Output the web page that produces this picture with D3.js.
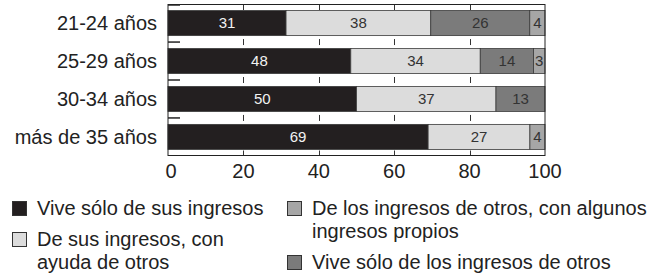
<!DOCTYPE html>
<html>
<head>
<meta charset="utf-8">
<script src="https://cdn.jsdelivr.net/npm/d3@7"></script>
<style>
  body { margin: 0; background: #fff; }
  svg { font-family: "Liberation Sans", Arial, sans-serif; }
</style>
</head>
<body>
<div id="chart"></div>
<script>
// categories (rows) and series values
var categories = ["21-24 años", "25-29 años", "30-34 años", "más de 35 años"];
var seriesKeys = ["propios", "ayuda", "otros", "algunos"];
var propios = [31, 48, 50, 69];   // Vive sólo de sus ingresos
var ayuda = [38, 34, 37, 27];     // De sus ingresos, con ayuda de otros
var otros = [26, 14, 13, 0];      // Vive sólo de los ingresos de otros
var algunos = [4, 3, 0, 4];       // De los ingresos de otros, con algunos ingresos propios
var xTicks = [0, 20, 40, 60, 80, 100];

var seriesColor = { propios: "#231f20", ayuda: "#dcdcdc", otros: "#7b7b7b", algunos: "#a6a6a6" };
var labelColor = { propios: "#f2f2f2", ayuda: "#333333", otros: "#333333", algunos: "#333333" };

// legend, in two columns, as in the picture
var legendItems = [
  { key: "propios", lines: ["Vive sólo de sus ingresos"], col: 0, row: 0 },
  { key: "ayuda", lines: ["De sus ingresos, con", "ayuda de otros"], col: 0, row: 1 },
  { key: "algunos", lines: ["De los ingresos de otros, con algunos", "ingresos propios"], col: 1, row: 0 },
  { key: "otros", lines: ["Vive sólo de los ingresos de otros"], col: 1, row: 1 }
];

var width = 666, height = 280;
var plotLeft = 168, plotRight = 545, plotTop = 4.5, plotBottom = 155.5;
var bigFont = 20, barFont = 15;

var svg = d3.select("#chart").append("svg")
  .attr("width", width)
  .attr("height", height);

var rows = categories.map(function (c, i) {
  return { cat: c, propios: propios[i], ayuda: ayuda[i], otros: otros[i], algunos: algunos[i] };
});

var x = d3.scaleLinear().domain([0, 100]).range([plotLeft, plotRight]);
var y = d3.scaleBand().domain(categories).range([plotTop, plotBottom])
  .paddingInner(0.34).paddingOuter(0.16);

// each row filled to 100
var stack = d3.stack().keys(seriesKeys).offset(d3.stackOffsetExpand);
var layers = stack(rows);

drawGrid();
drawBars();
drawFrame();
drawAxis();
drawLegend();

function drawGrid() {
  var gap = (y.step() - y.bandwidth()) / 2;
  var inner = xTicks.filter(function (t) { return t > 0 && t < 100; });
  var g = svg.append("g").attr("stroke", "#333").attr("stroke-width", 1);
  // short marks at top, bottom and between rows
  inner.forEach(function (t) {
    var px = Math.round(x(t)) + 0.5;
    g.append("line").attr("x1", px).attr("x2", px).attr("y1", plotTop).attr("y2", plotTop + 5.5);
    g.append("line").attr("x1", px).attr("x2", px).attr("y1", plotBottom - 5).attr("y2", plotBottom);
    categories.slice(1).forEach(function (c) {
      var b = y(c) - gap;
      g.append("line").attr("x1", px).attr("x2", px).attr("y1", b - 3).attr("y2", b + 3);
    });
  });
  // category boundary ticks on the left side
  var bounds = [plotTop + 0.5].concat(categories.slice(1).map(function (c) { return y(c) - gap; }));
  bounds.forEach(function (b) {
    svg.append("line")
      .attr("x1", plotLeft).attr("x2", plotLeft + 12)
      .attr("y1", b).attr("y2", b)
      .attr("stroke", "#333").attr("stroke-width", 1.6);
  });
}

function drawBars() {
  for (var layer of layers) {
    var key = layer.key;
    var g = svg.append("g");
    var segs = layer.filter(function (d) { return d.data[key] > 0; });
    g.selectAll("rect").data(segs).enter().append("rect")
      .attr("x", function (d) { return x(d[0] * 100); })
      .attr("y", function (d) { return y(d.data.cat); })
      .attr("width", function (d) { return x(d[1] * 100) - x(d[0] * 100); })
      .attr("height", y.bandwidth())
      .attr("fill", seriesColor[key])
      .attr("stroke", "#3a3a3a")
      .attr("stroke-width", 0.8);
    g.selectAll("text").data(segs).enter().append("text")
      .attr("x", function (d) { return (x(d[0] * 100) + x(d[1] * 100)) / 2; })
      .attr("y", function (d) { return y(d.data.cat) + y.bandwidth() / 2; })
      .attr("dy", "0.36em")
      .attr("text-anchor", "middle")
      .attr("font-size", barFont)
      .attr("fill", labelColor[key])
      .text(function (d) { return d.data[key]; });
  }
}

function drawFrame() {
  svg.append("rect")
    .attr("x", plotLeft).attr("y", plotTop)
    .attr("width", plotRight - plotLeft).attr("height", plotBottom - plotTop)
    .attr("fill", "none")
    .attr("stroke", "#222")
    .attr("stroke-width", 1);
}

function drawAxis() {
  svg.append("g")
    .selectAll("text").data(xTicks).enter().append("text")
    .attr("x", function (d) { return x(d) + (d === 0 ? 3 : 0); })
    .attr("y", 178)
    .attr("text-anchor", "middle")
    .attr("font-size", bigFont)
    .attr("fill", "#222")
    .text(function (d) { return d; });
  svg.append("g")
    .selectAll("text").data(categories).enter().append("text")
    .attr("x", 157)
    .attr("y", function (d) { return y(d) + y.bandwidth() / 2; })
    .attr("dy", "0.36em")
    .attr("text-anchor", "end")
    .attr("font-size", bigFont)
    .attr("fill", "#222")
    .text(function (d) { return d; });
}

function drawLegend() {
  var colX = [12, 287];
  var firstBase = 215, lineGap = 23, itemGap = 31;
  legendItems.forEach(function (item) {
    var prev = legendItems.filter(function (o) { return o.col === item.col && o.row < item.row; });
    var base = firstBase;
    prev.forEach(function (o) { base += (o.lines.length - 1) * lineGap + itemGap; });
    var g = svg.append("g");
    g.append("rect")
      .attr("x", colX[item.col] + 0.5).attr("y", base - 13.5)
      .attr("width", 14).attr("height", 14)
      .attr("fill", seriesColor[item.key])
      .attr("stroke", "#333").attr("stroke-width", 1);
    var t = g.append("text")
      .attr("font-size", bigFont)
      .attr("fill", "#222");
    item.lines.forEach(function (line, i) {
      t.append("tspan")
        .attr("x", colX[item.col] + 25)
        .attr("y", base + i * lineGap)
        .text(line);
    });
  });
}
</script>
</body>
</html>
